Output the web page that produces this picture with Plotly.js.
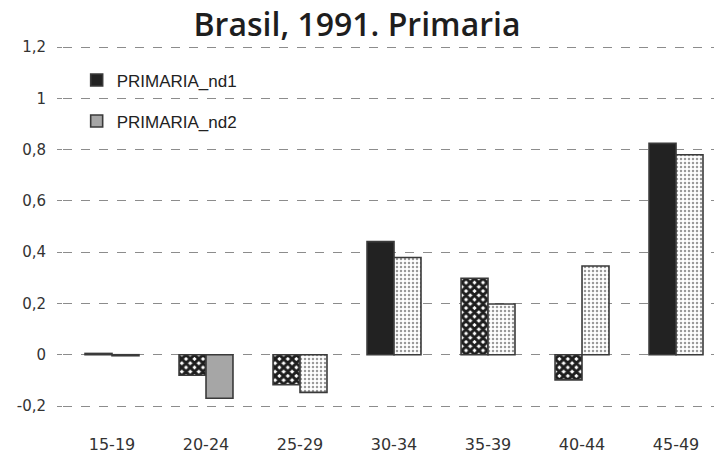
<!DOCTYPE html>
<html>
<head>
<meta charset="utf-8">
<script src="https://cdn.plot.ly/plotly-3.0.1.min.js"></script>
<style>html,body{margin:0;padding:0;background:#fff;}#chart{width:714px;height:453px;}</style>
</head>
<body>
<div id="chart"></div>
<script>
const categories = ["15-19","20-24","25-29","30-34","35-39","40-44","45-49"];
const nd1 = [0.005, -0.08, -0.117, 0.441, 0.298, -0.098, 0.824];
const nd2 = [-0.004, -0.17, -0.147, 0.379, 0.198, 0.346, 0.78];
// fill style per bar: 's' solid, 'h' cross-hatch, 'd' dotted
const nd1Style = ["s","h","h","s","h","h","s"];
const nd2Style = ["s","s","d","d","d","d","d"];
const yTicks = [-0.2,0,0.2,0.4,0.6,0.8,1,1.2];

function patt(styles, fg){
  return {
    shape: styles.map(s => s==="h" ? "x" : s==="d" ? "." : ""),
    fgcolor: styles.map(s => s==="h" ? "#1e1e1e" : s==="d" ? "#9a9a9a" : fg),
    bgcolor: styles.map(s => "#ffffff"),
    size: styles.map(s => s==="h" ? 6 : 4),
    solidity: styles.map(s => s==="h" ? 0.75 : 0.3),
    fillmode: "replace"
  };
}
const traces = [
  {type:"bar", x:categories, y:nd1, name:"PRIMARIA_nd1", legendgroup:"a",
   marker:{color:"#222222", pattern:patt(nd1Style,"#222222"), line:{color:"#3a3a3a", width:1.6}}},
  {type:"bar", x:categories, y:nd2, name:"PRIMARIA_nd2", legendgroup:"b",
   marker:{color:"#a6a6a6", pattern:patt(nd2Style,"#a6a6a6"), line:{color:"#3a3a3a", width:1.6}}}
];
const yPad = 2/256.4, xPad = 2/94;
const yRange = [-0.2 - yPad, 1.2 + yPad];
const xRange = [-0.5 - xPad, 6.404];
const layout = {
  width:714, height:453,
  margin:{l:63, r:0, t:45, b:45},
  paper_bgcolor:"#fff", plot_bgcolor:"#fff",
  separators:", ",
  barmode:"group", bargap:0.426, bargroupgap:0,
  title:{text:"Brasil, 1991. Primaria", font:{family:"Open Sans, Noto Sans, sans-serif", size:32, weight:600, color:"#1e1e1e"},
         x:0.5, xanchor:"center", xref:"container", y:0.945, yanchor:"middle", yref:"container"},
  font:{family:"DejaVu Sans, sans-serif", color:"#333", size:15},
  showlegend:true,
  legend:{x:0.021, y:0.952, xanchor:"left", yanchor:"top", bgcolor:"rgba(0,0,0,0)", tracegroupgap:16,
          font:{family:"Liberation Sans, Arial, sans-serif", size:17, color:"#222"}},
  xaxis:{type:"category", range:xRange, showgrid:false, zeroline:false, showline:false, ticks:"",
         ticklabelstandoff:25, tickfont:{size:16, color:"#333"}, fixedrange:true},
  xaxis2:{overlaying:"x", anchor:"free", position:(0 - yRange[0])/(yRange[1]-yRange[0]), range:xRange, showline:true, linecolor:"#8c8c8c", linewidth:1.5,
          ticks:"outside", ticklen:7, tickcolor:"#8c8c8c", tickwidth:1.5, tickvals:[0.5,1.5,2.5,3.5,4.5,5.5],
          showticklabels:false, showgrid:false, zeroline:false},
  xaxis3:{overlaying:"x", anchor:"y", range:xRange, showline:false, ticks:"", showticklabels:false,
          tickvals:[-0.5], showgrid:true, gridcolor:"#8c8c8c", griddash:"dash", gridwidth:1, zeroline:false},
  yaxis:{range:yRange, tickvals:yTicks, ticktext:yTicks.map(v=>v.toString().replace(".",",")),
         showgrid:true, gridcolor:"#8c8c8c", griddash:"dash", gridwidth:1,
         zeroline:false, showline:false,
         ticks:"outside", ticklen:5, tickcolor:"#8c8c8c", ticklabelstandoff:8, tickfont:{size:15, color:"#333"}}
};
Plotly.newPlot("chart", traces, layout, {staticPlot:true});
</script>
</body>
</html>
